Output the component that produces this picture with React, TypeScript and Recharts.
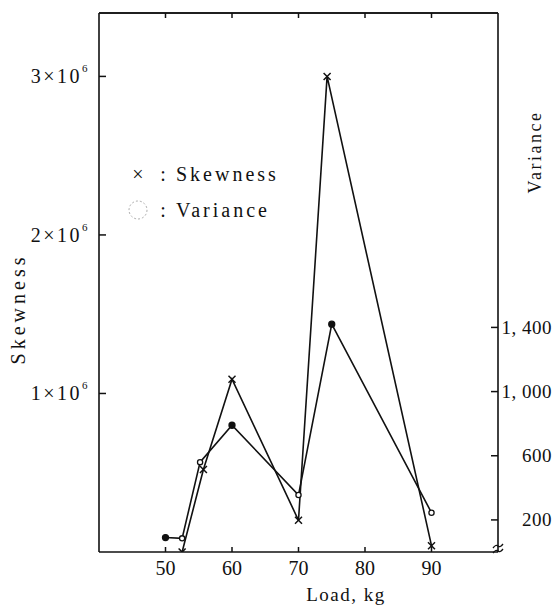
import { LineChart, Line, XAxis, YAxis, Legend, Label, ReferenceDot, ReferenceLine } from "recharts";

// skewness series (x marks)
const skewLoads = [52.5, 55.7, 60, 70, 74.3, 90];
const skewValues = [0, 520000, 1090000, 200000, 3000000, 40000];

// variance series (circles)
const varLoads = [50, 52.5, 55.2, 60, 70, 75, 90];
const varValues = [90, 85, 560, 790, 355, 1420, 245];

const loadTicks = [50, 60, 70, 80, 90];
const skewTicks = [1000000, 2000000, 3000000];
const varTicks = [200, 600, 1000, 1400];

const skewData = skewLoads.map((load, i) => ({ load, skew: skewValues[i] }));
const varData = varLoads.map((load, i) => ({ load, variance: varValues[i] }));

const FONT = '"Liberation Serif", "DejaVu Serif", serif';
const INK = "#111";
const SKEW_MAX = 3400000;
// points drawn as hollow circles in the original
const OPEN_POINTS = new Set([1, 2, 4, 6]);

function LoadTick({ x, y, payload }: any) {
  return (
    <g>
      <line x1={x} y1={y} x2={x} y2={y - 5} stroke={INK} strokeWidth={1.5} />
      <text x={x} y={y + 16} textAnchor="middle" dominantBaseline="central" fontFamily={FONT} fontSize={20} fill={INK}>
        {payload.value}
      </text>
    </g>
  );
}

function TopTick({ x, y }: any) {
  return <line x1={x} y1={y} x2={x} y2={y + 5} stroke={INK} strokeWidth={1.5} />;
}

function SkewTick({ x, y, payload }: any) {
  const n = Math.round(payload.value / 1000000);
  return (
    <g>
      <line x1={x} y1={y} x2={x + 7} y2={y} stroke={INK} strokeWidth={1.5} />
      <text x={x - 9} y={y} textAnchor="end" dominantBaseline="central" fontFamily={FONT} fontSize={20} fill={INK} letterSpacing={2.5}>
        {n}×10
        <tspan fontSize={11} dy={-8}>6</tspan>
      </text>
    </g>
  );
}

function VarTick({ x, y, payload }: any) {
  const label = payload.value.toLocaleString("en-US").replace(",", ", ");
  return (
    <g>
      <line x1={x} y1={y} x2={x - 7} y2={y} stroke={INK} strokeWidth={1.5} />
      <text x={x + 54} y={y} textAnchor="end" dominantBaseline="central" fontFamily={FONT} fontSize={19} fill={INK} letterSpacing={0.5}>
        {label}
      </text>
    </g>
  );
}

function CrossDot({ cx, cy }: any) {
  const s = 3.5;
  return (
    <g>
      <line x1={cx - s} y1={cy - s} x2={cx + s} y2={cy + s} stroke={INK} strokeWidth={1.5} />
      <line x1={cx - s} y1={cy + s} x2={cx + s} y2={cy - s} stroke={INK} strokeWidth={1.5} />
    </g>
  );
}

function CircleDot({ cx, cy, index }: any) {
  const open = OPEN_POINTS.has(index);
  return <circle cx={cx} cy={cy} r={open ? 2.6 : 3} fill={open ? "#fff" : INK} stroke={INK} strokeWidth={1.3} />;
}

function BreakMark({ cx, cy }: any) {
  return (
    <g stroke={INK} strokeWidth={1.3} fill="none">
      <path d={`M ${cx - 5} ${cy - 4} q 3 -4 5 -2 t 5 -2`} />
      <path d={`M ${cx - 5} ${cy + 1} q 3 -4 5 -2 t 5 -2`} />
    </g>
  );
}

// absolutely placed so it takes no room from the plot
function LegendBox() {
  const row = { display: "flex", alignItems: "center", height: 36, fontFamily: FONT, fontSize: 20, color: INK, letterSpacing: 3 } as const;
  return (
    <div style={{ position: "absolute", left: 126, top: 156, width: 220 }}>
      <div style={row}>
        <span style={{ width: 24, textAlign: "center", fontSize: 20, letterSpacing: 0 }}>×</span>
        <span style={{ width: 26, textAlign: "center", letterSpacing: 0 }}>:</span>
        <span>Skewness</span>
      </div>
      <div style={row}>
        <span style={{ width: 24, display: "flex", justifyContent: "center" }}>
          <svg width={22} height={22}>
            <circle cx={11} cy={11} r={9} fill="none" stroke="#999" strokeWidth={0.8} strokeDasharray="2 2" />
          </svg>
        </span>
        <span style={{ width: 26, textAlign: "center", letterSpacing: 0 }}>:</span>
        <span>Variance</span>
      </div>
    </div>
  );
}

export default function App() {
  return (
    <div style={{ position: "absolute", left: 0, top: 0, background: "#fff" }}>
      <LineChart width={556} height={606} margin={{ top: 12, right: 0, bottom: 0, left: 0 }}>
        <XAxis
          xAxisId="bottom"
          type="number"
          dataKey="load"
          domain={[40, 100]}
          ticks={loadTicks}
          allowDataOverflow
          height={54}
          tickSize={0}
          tickMargin={0}
          tick={<LoadTick />}
          stroke={INK}
          strokeWidth={1.6}
        >
          <Label
            content={({ viewBox }: any) => (
              <text x={viewBox.x + 247} y={viewBox.y + 42} textAnchor="middle" dominantBaseline="central" fontFamily={FONT} fontSize={19} fill={INK} letterSpacing={1.5}>
                Load, kg
              </text>
            )}
          />
        </XAxis>
        <XAxis
          xAxisId="top"
          orientation="top"
          type="number"
          dataKey="load"
          domain={[40, 100]}
          ticks={loadTicks}
          allowDataOverflow
          height={1}
          tickSize={0}
          tickMargin={0}
          tick={<TopTick />}
          stroke={INK}
          strokeWidth={1.6}
        />
        <YAxis
          yAxisId="skew"
          orientation="left"
          type="number"
          domain={[0, SKEW_MAX]}
          ticks={skewTicks}
          allowDataOverflow
          width={99}
          tickSize={0}
          tickMargin={0}
          tick={<SkewTick />}
          stroke={INK}
          strokeWidth={1.6}
        >
          <Label
            content={() => (
              <text x={18} y={309} transform="rotate(-90 18 309)" textAnchor="middle" dominantBaseline="central" fontFamily={FONT} fontSize={20} fill={INK} letterSpacing={4}>
                Skewness
              </text>
            )}
          />
        </YAxis>
        <YAxis
          yAxisId="var"
          orientation="right"
          type="number"
          domain={[0, 3360]}
          ticks={varTicks}
          allowDataOverflow
          width={58}
          tickSize={0}
          tickMargin={0}
          tick={<VarTick />}
          stroke={INK}
          strokeWidth={1.6}
        >
          <Label
            content={() => (
              <text x={535} y={152} transform="rotate(-90 535 152)" textAnchor="middle" dominantBaseline="central" fontFamily={FONT} fontSize={18} fill={INK} letterSpacing={2.5}>
                Variance
              </text>
            )}
          />
        </YAxis>
        <Legend content={<LegendBox />} wrapperStyle={{ position: "absolute", left: 0, top: 0, width: 0, height: 0 }} />
        <ReferenceLine xAxisId="bottom" yAxisId="skew" y={SKEW_MAX} stroke={INK} strokeWidth={1.6} ifOverflow="visible" />
        <Line
          xAxisId="bottom"
          yAxisId="skew"
          data={skewData}
          dataKey="skew"
          name="Skewness"
          stroke={INK}
          strokeWidth={1.6}
          dot={(p: any) => <CrossDot {...p} key={`s-${p.index}`} />}
          isAnimationActive={false}
        />
        <Line
          xAxisId="bottom"
          yAxisId="var"
          data={varData}
          dataKey="variance"
          name="Variance"
          stroke={INK}
          strokeWidth={1.6}
          dot={(p: any) => <CircleDot {...p} key={`v-${p.index}`} />}
          isAnimationActive={false}
        />
        <ReferenceDot xAxisId="bottom" yAxisId="var" x={100} y={0} ifOverflow="visible" shape={<BreakMark />} />
      </LineChart>
    </div>
  );
}
